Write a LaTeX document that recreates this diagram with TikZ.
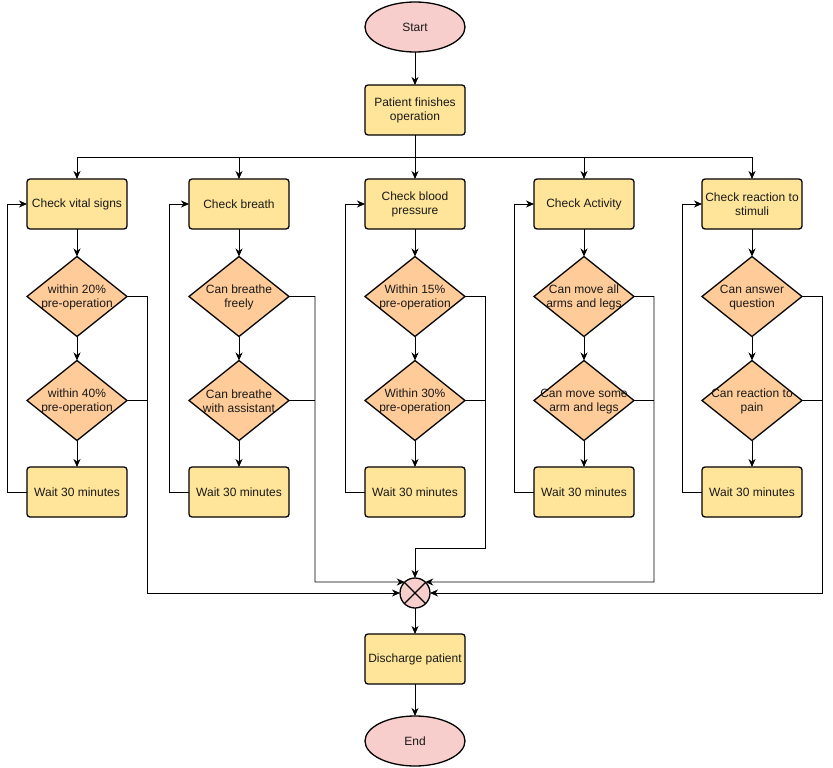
\documentclass[tikz,border=0pt]{standalone}
\usepackage{fontspec}
\setmainfont{Liberation Sans}
\usetikzlibrary{shapes.geometric,arrows.meta}
\definecolor{boxfill}{HTML}{FFE599}
\definecolor{diafill}{HTML}{FFCC99}
\definecolor{ellfill}{HTML}{F8CECC}
\tikzset{
  txt/.style={font=\fontsize{12}{14}\selectfont, align=center, text=black!90},
  stepbox/.style={txt, rectangle, rounded corners=3pt, draw=black, line width=1.3pt, fill=boxfill,
    minimum width=100pt, minimum height=50pt, inner sep=0pt, outer sep=0pt},
  dia/.style={diamond, draw=black, line width=1.3pt, fill=diafill,
    minimum width=100pt, minimum height=80pt, inner sep=0pt, outer sep=0pt},
  lbl/.style={txt, inner sep=0pt, yshift=-1pt},
  term/.style={txt, ellipse, draw=black, line width=1.3pt, fill=ellfill,
    minimum width=100pt, minimum height=50pt, inner sep=0pt, outer sep=0pt},
  mergenode/.style={circle, draw=black, line width=1.3pt, fill=ellfill, minimum size=30pt,
    inner sep=0pt, outer sep=0pt},
  conn/.style={draw=black, line width=0.9pt},
  arr/.style={conn, -{Stealth[length=8pt,width=7pt,inset=2.5pt]}},
}
\begin{document}
\begin{tikzpicture}[x=1pt,y=-1pt]
\useasboundingbox (0,0) rectangle (833,768);

\node[term] (start) at (415,27) {Start};
\node[stepbox] (patient) at (415,110) {Patient finishes\\operation};
\coordinate (bus) at (415,157);

% column 1
\node[stepbox] (c1b) at (77,204) {Check vital signs};
\node[dia, label={[lbl]center:within 20\%\\pre-operation}] (c1d1) at (77,296.5) {};
\node[dia, label={[lbl]center:within 40\%\\pre-operation}] (c1d2) at (77,400.5) {};
\node[stepbox] (c1w) at (77,492) {Wait 30 minutes};

% column 2
\node[stepbox] (c2b) at (239,204) {Check breath};
\node[dia, label={[lbl]center:Can breathe\\freely}] (c2d1) at (239,296.5) {};
\node[dia, label={[lbl]center:Can breathe\\with assistant}] (c2d2) at (239,400.5) {};
\node[stepbox] (c2w) at (239,492) {Wait 30 minutes};

% column 3
\node[stepbox] (c3b) at (415,204) {Check blood\\pressure};
\node[dia, label={[lbl]center:Within 15\%\\pre-operation}] (c3d1) at (415,296.5) {};
\node[dia, label={[lbl]center:Within 30\%\\pre-operation}] (c3d2) at (415,400.5) {};
\node[stepbox] (c3w) at (415,492) {Wait 30 minutes};

% column 4
\node[stepbox] (c4b) at (584,204) {Check Activity};
\node[dia, label={[lbl]center:Can move all\\arms and legs}] (c4d1) at (584,296.5) {};
\node[dia, label={[lbl]center:Can move some\\arm and legs}] (c4d2) at (584,400.5) {};
\node[stepbox] (c4w) at (584,492) {Wait 30 minutes};

% column 5
\node[stepbox] (c5b) at (752,204) {Check reaction to\\stimuli};
\node[dia, label={[lbl]center:Can answer\\question}] (c5d1) at (752,296.5) {};
\node[dia, label={[lbl]center:Can reaction to\\pain}] (c5d2) at (752,400.5) {};
\node[stepbox] (c5w) at (752,492) {Wait 30 minutes};

% merge
\node[mergenode] (merge) at (415,593) {};
\draw[conn, line width=1.3pt] (merge.45) -- (merge.225) (merge.135) -- (merge.315);

\node[stepbox] (discharge) at (415,659) {Discharge patient};
\node[term] (end) at (415,741) {End};

% top
\draw[arr] (start) -- (patient);
\draw[conn] (patient) -- (bus);
\foreach \c in {c1b,c2b,c4b,c5b} {\draw[arr] (bus) -| (\c.north);}
\draw[arr] (bus) -- (c3b.north);

% column flows
\foreach \i/\lx in {1/7,2/169,3/345,4/514,5/682} {
  \draw[arr] (c\i b) -- (c\i d1);
  \draw[arr] (c\i d1) -- (c\i d2);
  \draw[arr] (c\i d2) -- (c\i w);
  \draw[arr] (c\i w.west) -- (\lx,492) |- (c\i b.west);
}

% right-side exits
\draw[conn] (c1d2.east) -- (147,400.5);
\draw[arr] (c1d1.east) -| (147,593) -- (merge.west);
\draw[conn] (c2d2.east) -- (315,400.5);
\draw[arr] (c2d1.east) -| (315,582) -- (merge.133);
\draw[conn] (c3d2.east) -- (485,400.5);
\draw[arr] (c3d1.east) -| (485,548) -| (merge.north);
\draw[conn] (c4d2.east) -- (654,400.5);
\draw[arr] (c4d1.east) -| (654,582) -- (merge.47);
\draw[conn] (c5d2.east) -- (822,400.5);
\draw[arr] (c5d1.east) -| (822,593) -- (merge.east);

\draw[arr] (merge) -- (discharge);
\draw[arr] (discharge) -- (end);
\end{tikzpicture}
\end{document}
